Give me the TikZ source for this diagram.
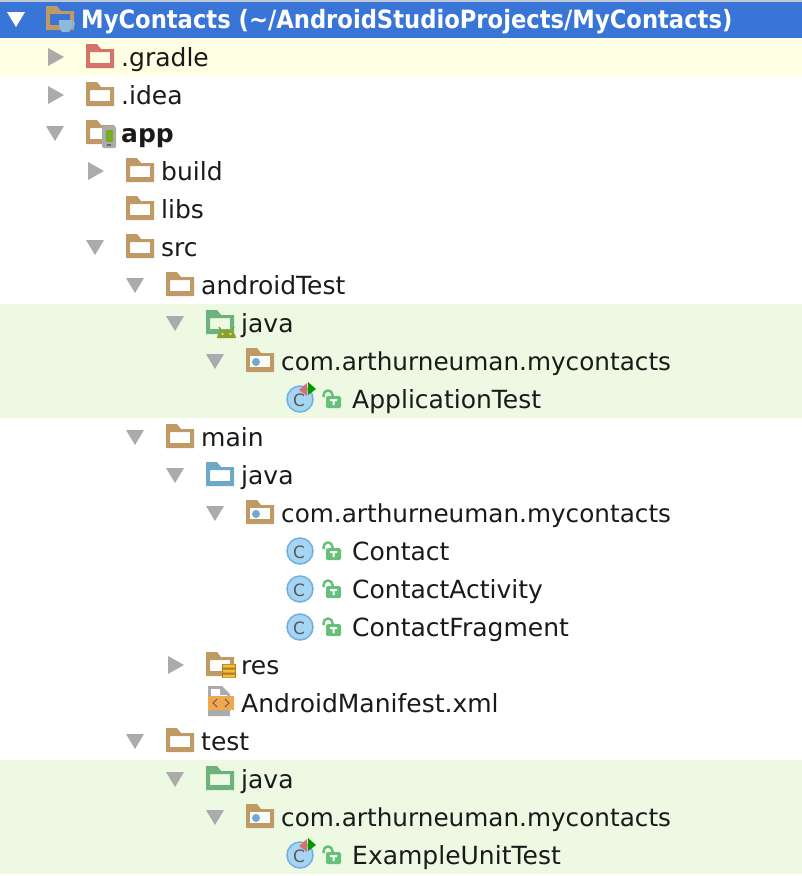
\documentclass[tikz,border=0pt]{standalone}
\usepackage{fontspec}
\setmainfont{DejaVu Sans}
\newfontfamily\rootfont{DejaVu Sans Condensed}
\definecolor{rootblue}{RGB}{56,117,215}
\definecolor{rowyellow}{RGB}{255,255,228}
\definecolor{rowgreen}{RGB}{237,249,227}
\definecolor{topgrey}{RGB}{190,200,215}
\definecolor{folderbrown}{RGB}{191,154,100}
\definecolor{folderred}{RGB}{213,115,106}
\definecolor{foldergreen}{RGB}{109,178,124}
\definecolor{folderblue}{RGB}{110,168,201}
\definecolor{dotblue}{RGB}{112,168,208}
\definecolor{arrowgrey}{RGB}{171,171,171}
\definecolor{labelblack}{RGB}{26,26,26}
\definecolor{classfill}{RGB}{166,212,243}
\definecolor{classline}{RGB}{111,176,224}
\definecolor{lockgreen}{RGB}{103,192,122}
\definecolor{droidolive}{RGB}{139,160,40}
\definecolor{xmlorange}{RGB}{240,168,78}
\definecolor{coingold}{RGB}{240,190,60}
\definecolor{coindark}{RGB}{176,120,30}
\begin{document}
\begin{tikzpicture}
	[x=1pt,y=-1pt,
	rowlabel/.style={anchor=base west,inner sep=0pt,text=labelblack,font=\fontsize{25}{30}\selectfont},
	pkglabel/.style={rowlabel,font=\fontsize{24.7}{30}\selectfont},
	rootlabel/.style={anchor=base west,inner sep=0pt,text=white,font=\rootfont\fontsize{25.2}{30}\selectfont\bfseries},
	pics/closed/.style={code={\fill[arrowgrey] (0,-9) -- (16,0) -- (0,9) -- cycle;}},
	pics/opened/.style={code={\fill[#1] (0,-7) -- (18,-7) -- (9,8) -- cycle;}},
	pics/opened/.default=arrowgrey,
	pics/folder/.style={code={
		\fill[#1,even odd rule] (0,-13) -- (11,-13) -- (15,-8) -- (28,-8) -- (28,11) -- (0,11) -- cycle
			(4,-5) rectangle (24,6);}},
	pics/pkgfolder/.style={code={
		\fill[folderbrown] (0,-13) -- (11,-13) -- (15,-8) -- (28,-8) -- (28,11) -- (0,11) -- cycle;
		\fill[white!70!rowgreen] (4,-5) rectangle (24,6);
		\fill[dotblue] (10,1) circle (4);}},
	pics/cup/.style={code={
		\draw[dotblue!80!white,line width=1.5pt] (12,4) circle (3);
		\fill[dotblue!80!white] (0,0) -- (13,0) -- (13,6) -- (10,12) -- (3,12) -- (0,6) -- cycle;}},
	pics/phone/.style={code={
		\fill[arrowgrey,rounded corners=1.5pt] (0,0) rectangle (14,22);
		\fill[droidolive!85!green] (4,4) rectangle (11,16);
		\fill[black!60] (5,18) rectangle (9,20);}},
	pics/droid/.style={code={
		\fill[droidolive] (0,12) arc[start angle=180,end angle=360,x radius=9.5,y radius=8] -- cycle;
		\draw[droidolive,line width=1.5pt] (2,1) -- (5,6) (17,1) -- (14,6);
		\fill[rowgreen!70!droidolive] (5.5,8) circle (1.3) (13.5,8) circle (1.3);}},
	pics/coins/.style={code={
		\fill[coindark] (0,0) rectangle (14,14);
		\fill[coingold] (1,.5) rectangle (13,3.5) (1,5.5) rectangle (13,8.5) (1,10.5) rectangle (13,13.5);}},
	pics/xmlfile/.style={code={
		\fill[arrowgrey] (0,-15) -- (14,-15) -- (22,-7) -- (22,15) -- (0,15) -- cycle;
		\fill[white] (3,-12) -- (12,-12) -- (12,-6) -- (19,-6) -- (19,-5) -- (3,-5) -- cycle;
		\fill[xmlorange] (0,-5) rectangle (26,9);
		\draw[black!65,line width=1pt] (9,-2) -- (5,2) -- (9,6) (17,-2) -- (21,2) -- (17,6);}},
	pics/classmark/.style={code={
		\fill[classfill,draw=classline,line width=1.5pt] (0,0) circle (13);
		\node[inner sep=0pt,text=black!65,font=\fontsize{17}{20}\selectfont] (letter) at (-1,1) {C};}},
	pics/testmark/.style={code={
		\fill[folderred] (7,-16) -- (7,-3) -- (-1,-9) -- cycle;
		\fill[green!60!black] (8,-17) -- (8,-4) -- (16,-10) -- cycle;}},
	pics/lockmark/.style={code={
		\draw[lockgreen,line width=2.5pt] (1.5,-2) -- (1.5,-4) arc[start angle=180,end angle=360,radius=4.5] -- (10.5,-2);
		\fill[lockgreen,rounded corners=1.5pt] (4,-3) rectangle (19,9);
		\fill[white] (8,0) rectangle (15,2) (10.5,0) rectangle (12.5,6);}}]
	\useasboundingbox (0,0) rectangle (802,876);
	% row backgrounds
	\fill[topgrey] (0,0) rectangle (802,2);
	\fill[rootblue] (0,2) rectangle (802,38);
	\fill[rowyellow] (0,38) rectangle (802,76);
	\fill[rowgreen] (0,304) rectangle (802,418);
	\fill[rowgreen] (0,760) rectangle (802,874);
	% project
	\pic at (7,19) {opened=white};
	\pic at (46,19) {folder=folderbrown};
	\pic at (59,20) {cup};
	\node[rootlabel] (root) at (81,28) {MyContacts (\textasciitilde/AndroidStudioProjects/MyContacts)};
	\pic at (48,57) {closed};
	\pic at (86,57) {folder=folderred};
	\node[rowlabel] (gradle) at (121,66) {.gradle};
	\pic at (48,95) {closed};
	\pic at (86,95) {folder=folderbrown};
	\node[rowlabel] (idea) at (121,104) {.idea};
	\pic at (46,133) {opened};
	\pic at (86,133) {folder=folderbrown};
	\pic at (102,126) {phone};
	\node[rowlabel,font=\fontsize{25}{30}\selectfont\bfseries] (app) at (121,142) {app};
	% app
	\pic at (88,171) {closed};
	\pic at (126,171) {folder=folderbrown};
	\node[rowlabel] (build) at (161,180) {build};
	\pic at (126,209) {folder=folderbrown};
	\node[rowlabel] (libs) at (161,218) {libs};
	\pic at (86,247) {opened};
	\pic at (126,247) {folder=folderbrown};
	\node[rowlabel] (src) at (161,256) {src};
	% androidTest
	\pic at (126,285) {opened};
	\pic at (166,285) {folder=folderbrown};
	\node[rowlabel] (androidTest) at (201,294) {androidTest};
	\pic at (166,323) {opened};
	\pic at (206,323) {folder=foldergreen};
	\pic at (217,326) {droid};
	\node[rowlabel] (javaandroid) at (241,332) {java};
	\pic at (206,361) {opened};
	\pic at (246,361) {pkgfolder};
	\node[pkglabel] (pkgandroid) at (281,370) {com.arthurneuman.mycontacts};
	\pic at (300,399) {classmark};
	\pic at (300,399) {testmark};
	\pic at (322,399) {lockmark};
	\node[rowlabel] (apptest) at (352,408) {ApplicationTest};
	% main
	\pic at (126,437) {opened};
	\pic at (166,437) {folder=folderbrown};
	\node[rowlabel] (main) at (201,446) {main};
	\pic at (166,475) {opened};
	\pic at (206,475) {folder=folderblue};
	\node[rowlabel] (javamain) at (241,484) {java};
	\pic at (206,513) {opened};
	\pic at (246,513) {pkgfolder};
	\node[pkglabel] (pkgmain) at (281,522) {com.arthurneuman.mycontacts};
	\pic at (300,551) {classmark};
	\pic at (322,551) {lockmark};
	\node[rowlabel] (contact) at (352,560) {Contact};
	\pic at (300,589) {classmark};
	\pic at (322,589) {lockmark};
	\node[rowlabel] (activity) at (352,598) {ContactActivity};
	\pic at (300,627) {classmark};
	\pic at (322,627) {lockmark};
	\node[rowlabel] (fragment) at (352,636) {ContactFragment};
	\pic at (168,665) {closed};
	\pic at (206,665) {folder=folderbrown};
	\pic at (222,664) {coins};
	\node[rowlabel] (res) at (241,674) {res};
	\pic at (208,701) {xmlfile};
	\node[rowlabel] (manifest) at (241,712) {AndroidManifest.xml};
	% test
	\pic at (126,741) {opened};
	\pic at (166,741) {folder=folderbrown};
	\node[rowlabel] (test) at (201,750) {test};
	\pic at (166,779) {opened};
	\pic at (206,779) {folder=foldergreen};
	\node[rowlabel] (javatest) at (241,788) {java};
	\pic at (206,817) {opened};
	\pic at (246,817) {pkgfolder};
	\node[pkglabel] (pkgtest) at (281,826) {com.arthurneuman.mycontacts};
	\pic at (300,855) {classmark};
	\pic at (300,855) {testmark};
	\pic at (322,855) {lockmark};
	\node[rowlabel] (unittest) at (352,864) {ExampleUnitTest};
\end{tikzpicture}
\end{document}
